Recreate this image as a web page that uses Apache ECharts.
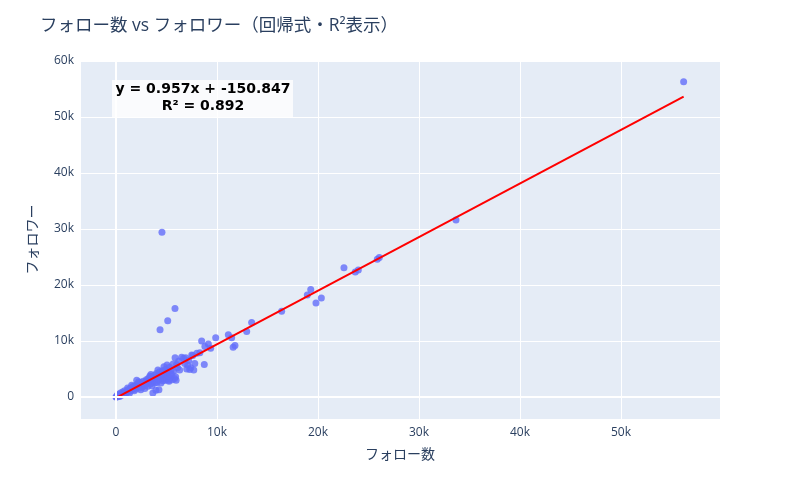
<!DOCTYPE html>
<html>
<head>
<meta charset="utf-8">
<script src="https://cdn.jsdelivr.net/npm/echarts@6/dist/echarts.min.js"></script>
<style>
    html, body { margin: 0; padding: 0; background: #fff; }
    #chart { width: 800px; height: 500px; }
</style>
</head>
<body>
<div id="chart"></div>
<script>
// フォロー数 (x)
var followCount = [
    0, 50, 100, 150, 200, 300, 350, 400, 500, 600, 700, 800, 900, 1000, 120, 250, 450, 650, 850,
    1100, 1200, 1300, 1400, 1500, 1600, 1700, 1800, 1900, 2000, 1150, 1350, 1550, 1750, 1950,
    2100, 2200, 2300, 2400, 2500, 2600, 2700, 2800, 2900, 3000, 2050, 2250, 2450, 2650, 2850, 2950,
    3100, 3200, 3300, 3400, 3500, 3600, 3700, 3800, 3900, 3150, 3350, 3550, 3750, 3950, 3450, 3650, 3850,
    4000, 4100, 4200, 4300, 4400, 4500, 4600, 4700, 4800, 4900, 4050, 4250, 4450, 4650, 4850, 4950, 4150, 4750,
    5000, 5100, 5200, 5300, 5400, 5500, 5600, 5700, 5800, 5900, 6000, 5050, 5250, 5450, 5650, 5850, 5950, 5150, 5350,
    6100, 6300, 6500, 6700, 6800, 7000, 7200, 7300, 7500, 7600, 7700, 7800, 8000, 8300, 6200, 6900, 7100, 7400,
    8480, 8740, 8800, 9140, 9370, 9870, 11120, 11450, 11600, 11780, 12940, 13430,
    4550, 5840, 5120, 4360,
    16400, 18940, 19280, 19800, 20330, 22570, 23690, 23990, 25870, 26070,
    33660, 56200
];
// フォロワー (y)
var followerCount = [
    0, 20, 80, 60, 150, 250, 100, 300, 450, 350, 600, 500, 850, 700, 300, 500, 700, 900, 1100,
    900, 1300, 1000, 1500, 1200, 1800, 1400, 1100, 2000, 1700, 1600, 700, 2100, 1900, 1400,
    2300, 1900, 1600, 2600, 2200, 1800, 2800, 2400, 2100, 3100, 3000, 2700, 1300, 2500, 1500, 2700,
    2600, 3300, 2900, 2300, 3600, 3200, 2700, 3900, 3400, 1900, 3700, 2000, 3000, 1200, 4000, 700, 2500,
    4200, 3600, 3000, 4500, 3900, 3300, 4700, 4100, 3500, 4900, 2600, 1300, 2500, 2900, 3000, 4300, 4800, 5400,
    3200, 4500, 3000, 5300, 3400, 4000, 3100, 4600, 3300, 3600, 5800, 5700, 2800, 4800, 5900, 7000, 3000, 3800, 4200,
    5200, 4800, 7100, 6900, 6000, 5000, 6500, 4900, 7500, 7400, 4800, 6000, 7800, 7900, 6400, 7000, 5700, 5200,
    10000, 5800, 9000, 9460, 8700, 10600, 11100, 10600, 8900, 9200, 11700, 13300,
    29400, 15800, 13600, 12000,
    15300, 18200, 19200, 16800, 17700, 23100, 22300, 22700, 24600, 24900,
    31600, 56300
];
// 回帰式
var slope = 0.957;
var intercept = -150.847;
var r2 = 0.892;

var xTicks = [0, 10000, 20000, 30000, 40000, 50000];
var yTicks = [0, 10000, 20000, 30000, 40000, 50000, 60000];

var font = '"Open Sans", "Noto Sans CJK JP", sans-serif';
var ink = '#2a3f5f';

var points = followCount.map(function (x, i) { return [x, followerCount[i]]; });
var xMin = Math.min.apply(null, followCount);
var xMax = Math.max.apply(null, followCount);
var fitLine = [[xMin, slope * xMin + intercept], [xMax, slope * xMax + intercept]];

function tickLabel(ticks) {
    return function (v) {
        if (ticks.indexOf(v) < 0) return '';
        return v === 0 ? '0' : (v / 1000) + 'k';
    };
}

var myChart = echarts.init(document.getElementById('chart'));
var option = {
    backgroundColor: '#fff',
    textStyle: { fontFamily: font },
    title: {
        text: 'フォロー数 vs フォロワー（回帰式・R²表示）',
        left: 35,
        top: 12,
        textStyle: { color: ink, fontSize: 17.5, fontWeight: 'normal', fontFamily: font }
    },
    grid: {
        left: 80,
        right: 80,
        top: 60,
        bottom: 81,
        show: true,
        backgroundColor: '#E5ECF6',
        borderWidth: 0
    },
    xAxis: {
        type: 'value',
        min: -3564,
        max: 59800,
        splitNumber: 6,
        name: 'フォロー数',
        nameLocation: 'middle',
        nameGap: 29,
        nameTextStyle: { color: ink, fontSize: 14, fontFamily: font },
        axisLine: { show: false },
        axisTick: { show: false },
        axisLabel: { color: ink, fontSize: 12, margin: 8, formatter: tickLabel(xTicks),
                     showMinLabel: false, showMaxLabel: false },
        splitLine: { lineStyle: { color: '#fff', width: 1 } }
    },
    yAxis: {
        type: 'value',
        min: -3930,
        max: 60180,
        splitNumber: 6,
        name: 'フォロワー',
        nameLocation: 'middle',
        nameGap: 40,
        nameTextStyle: { color: ink, fontSize: 14, fontFamily: font },
        axisLine: { show: false },
        axisTick: { show: false },
        axisLabel: { color: ink, fontSize: 12, margin: 6, formatter: tickLabel(yTicks) },
        splitLine: { lineStyle: { color: '#fff', width: 1 } }
    },
    series: [
        {
            // ゼロライン
            type: 'line',
            data: [],
            z: 1,
            markLine: {
                silent: true,
                symbol: 'none',
                label: { show: false },
                lineStyle: { color: '#fff', width: 2, type: 'solid' },
                data: [{ xAxis: 0 }, { yAxis: 0 }]
            }
        },
        {
            name: 'データ',
            type: 'scatter',
            data: points,
            symbolSize: 7,
            z: 3,
            itemStyle: { color: '#636efa', opacity: 0.8 }
        },
        {
            name: '回帰直線',
            type: 'line',
            data: fitLine,
            showSymbol: false,
            z: 4,
            lineStyle: { color: 'red', width: 2 }
        }
    ],
    graphic: [
        {
            type: 'rect',
            x: 112,
            y: 80,
            z: 10,
            shape: { x: 0, y: 0, width: 181, height: 37 },
            style: { fill: 'rgba(255,255,255,0.8)' }
        },
        {
            type: 'text',
            x: 203,
            y: 89,
            z: 11,
            style: {
                text: 'y = ' + slope.toFixed(3) + 'x + ' + intercept.toFixed(3),
                font: 'bold 14px "DejaVu Sans", sans-serif',
                fill: '#000',
                align: 'center',
                verticalAlign: 'middle'
            }
        },
        {
            type: 'text',
            x: 203,
            y: 106,
            z: 11,
            style: {
                text: 'R² = ' + r2.toFixed(3),
                font: 'bold 14px "DejaVu Sans", sans-serif',
                fill: '#000',
                align: 'center',
                verticalAlign: 'middle'
            }
        }
    ]
};
myChart.setOption(option);
</script>
</body>
</html>
